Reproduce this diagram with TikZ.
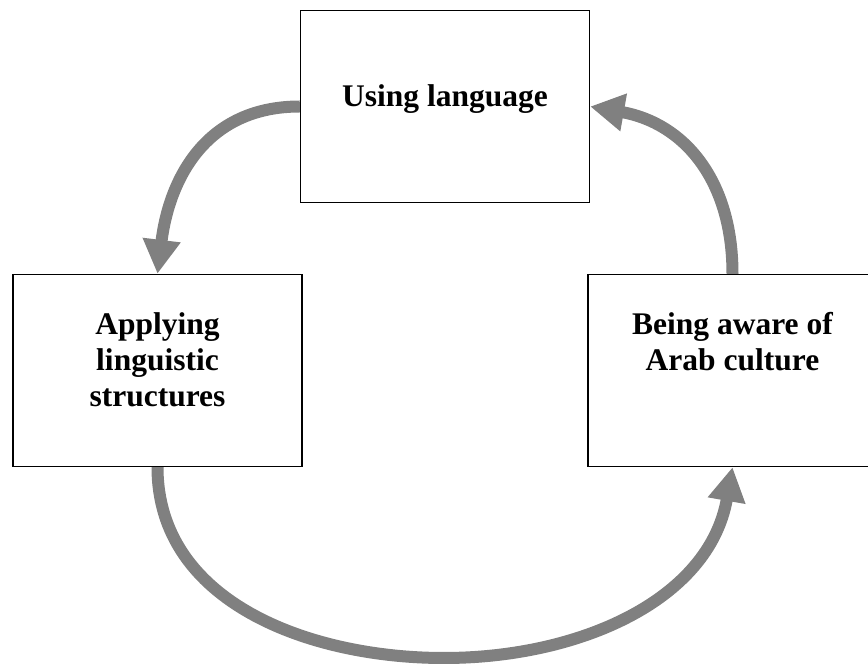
\documentclass[tikz,border=0pt]{standalone}
\usepackage{fontspec}
\setmainfont{Liberation Serif}
\usepackage{tikz}
\usetikzlibrary{arrows.meta,positioning}

\begin{document}
\begin{tikzpicture}[x=1pt,y=1pt,
  cyclebox/.style={draw,line width=1.4pt,minimum width=289pt,minimum height=192pt,inner sep=0pt},
  boxtext/.style={align=center,inner sep=0pt,font=\fontsize{31.5}{36}\selectfont\bfseries},
  cyclearrow/.style={line width=12pt,draw=gray,-{Triangle[length=34pt,width=36pt,fill=gray]}}]
  \useasboundingbox (0,0) rectangle (868,664);
  \clip (0,0) rectangle (868,664);
  \node[cyclebox] (lang) at (445,557.5) {};
  \node[cyclebox] (apply) at (157.5,293.5) {};
  \node[cyclebox] (aware) at (732.5,293.5) {};
  \node[boxtext,below=74.6pt of lang.north] (langtext) {Using language};
  \node[boxtext,below=38.6pt of apply.north] (applytext) {Applying\\linguistic\\structures};
  \node[boxtext,below=38.6pt of aware.north] (awaretext) {Being aware of\\Arab culture};
  \coordinate (bottom) at (444,6);
  \draw[cyclearrow] (lang.west) to[out=180,in=83,looseness=1.1] (apply.north);
  \draw[cyclearrow] (apply.south) to[out=-90,in=180] (bottom) to[out=0,in=-100] (aware.south);
  \draw[cyclearrow] (aware.north) to[out=90,in=-10,looseness=1.1] (lang.east);
\end{tikzpicture}
\end{document}
